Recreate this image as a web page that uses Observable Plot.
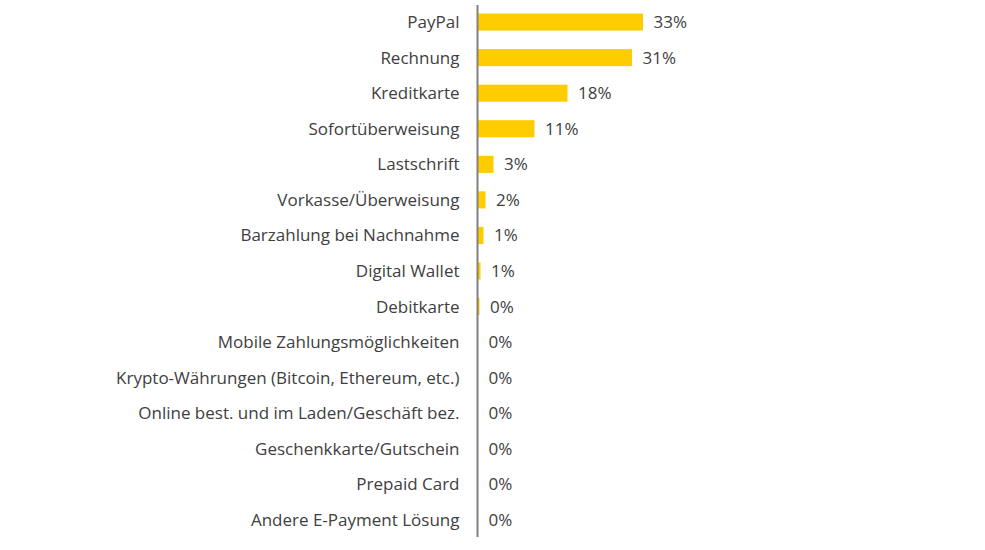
<!DOCTYPE html>
<html><head><meta charset="utf-8">
<script src="https://cdn.jsdelivr.net/npm/d3@7"></script>
<script src="https://cdn.jsdelivr.net/npm/@observablehq/plot@0.6"></script>
<style>
body{margin:0;background:#fff;}
</style>
</head><body><div id="chart"></div>
<script>
const categories = ["PayPal","Rechnung","Kreditkarte","Sofortüberweisung","Lastschrift","Vorkasse/Überweisung","Barzahlung bei Nachnahme","Digital Wallet","Debitkarte","Mobile Zahlungsmöglichkeiten","Krypto-Währungen (Bitcoin, Ethereum, etc.)","Online best. und im Laden/Geschäft bez.","Geschenkkarte/Gutschein","Prepaid Card","Andere E-Payment Lösung"];
const values = [33, 30.8, 17.9, 11.3, 3.1, 1.5, 1.1, 0.5, 0.3, 0, 0, 0, 0, 0, 0];
const labels = ["33%","31%","18%","11%","3%","2%","1%","1%","0%","0%","0%","0%","0%","0%","0%"];
const data = categories.map((c,i)=>({category:c, value:values[i], label:labels[i]}));
const font = "'Open Sans', sans-serif";
const chart = Plot.plot({
  width: 985, height: 550,
  marginLeft: 478, marginRight: 7, marginTop: 5, marginBottom: 13,
  style: {fontFamily: font, color: "#404040", background: "#fff"},
  x: {domain: [0, 100], axis: null},
  y: {domain: categories, paddingInner: 0.52, paddingOuter: 0.24, round: false, label: null},
  marks: [
    Plot.barX(data, {y: "category", x: "value", fill: "#FFCC00"}),
    Plot.ruleX([0], {stroke: "#808080", strokeWidth: 2, dx: -1}),
    Plot.text(data, {y: "category", x: "value", text: "label", textAnchor: "start", dx: 10, fontSize: 17, fill: "#404040"}),
    Plot.axisY({tickSize: 0, tickPadding: 19, fontSize: 17, label: null, fill: "#404040"})
  ]
});
document.getElementById("chart").append(chart);
</script>
</body></html>
